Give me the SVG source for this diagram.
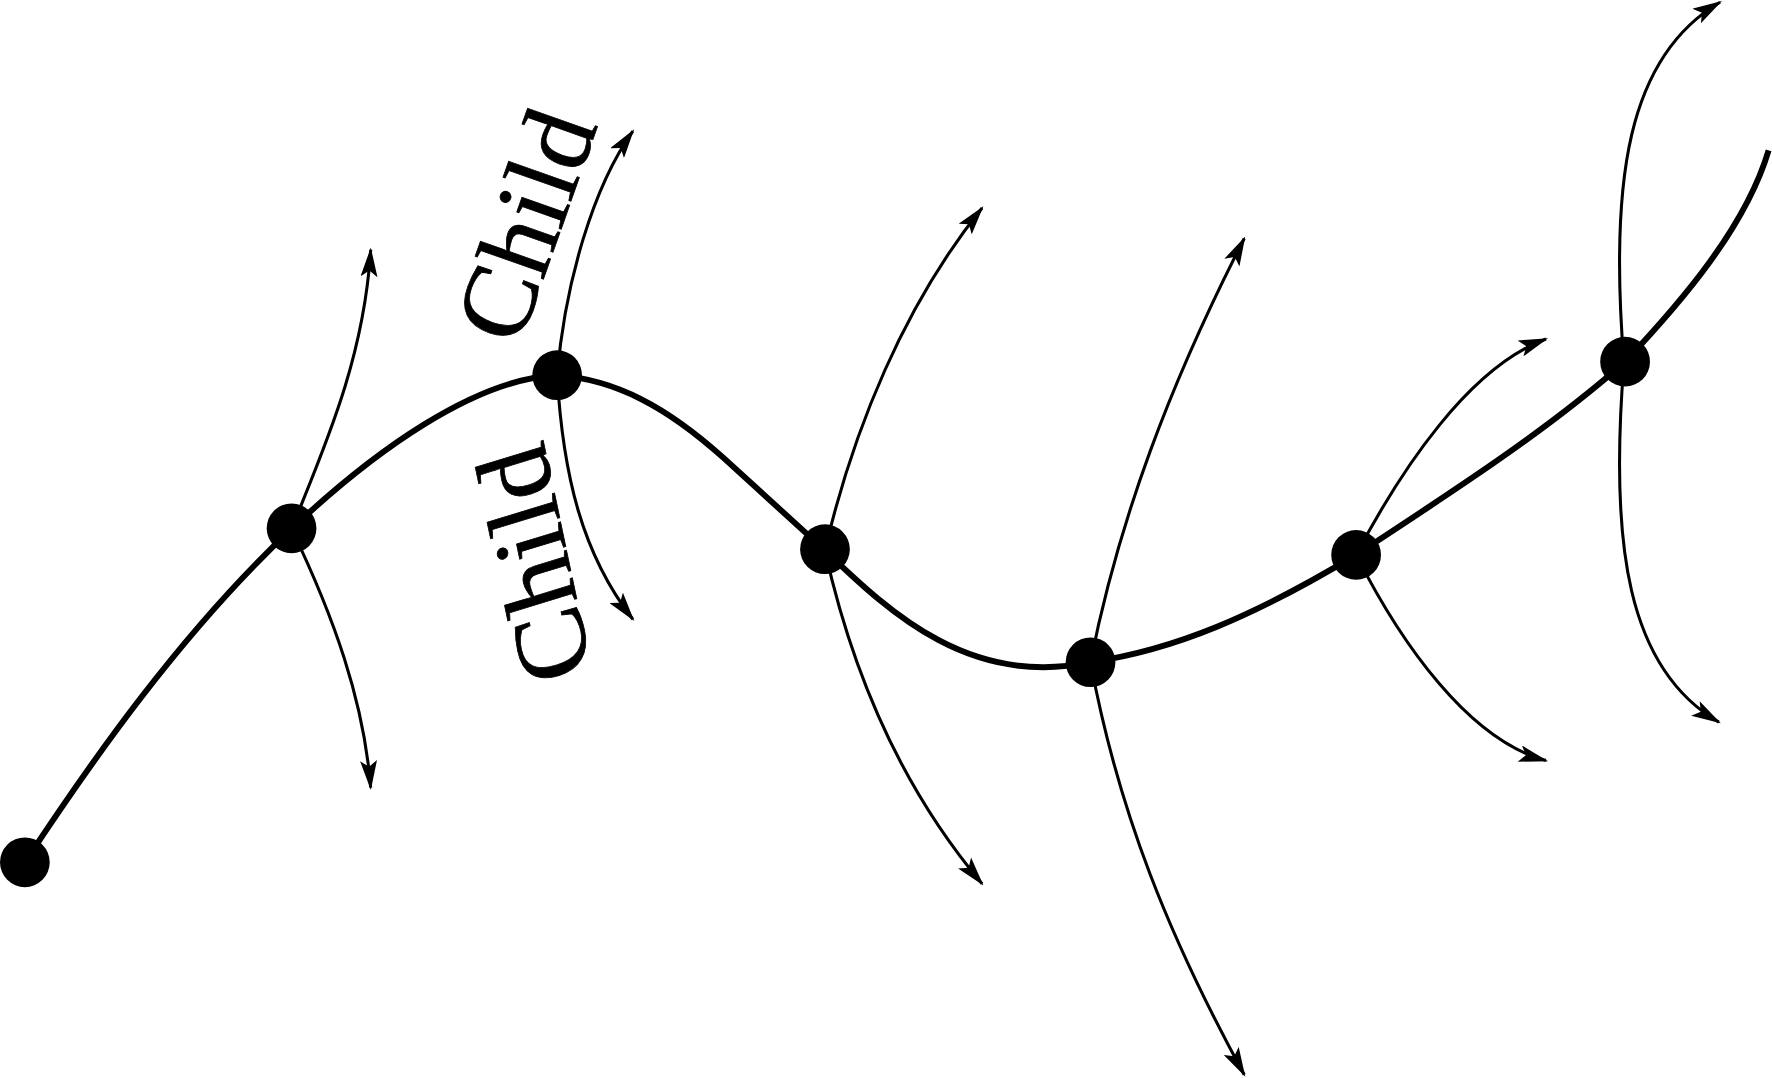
<svg xmlns="http://www.w3.org/2000/svg" width="1772" height="1078" viewBox="0 0 1772 1078">
<style>
.main{fill:none;stroke:#000;stroke-width:5.2;stroke-linecap:butt;stroke-linejoin:round}
.arr{fill:none;stroke:#000;stroke-width:2.7;marker-end:url(#ah)}
.node{fill:#000}
.lbl{font-family:"Liberation Serif","Times New Roman",serif;font-size:92px;fill:#000;stroke:#000;stroke-width:0.7}
</style>
<defs>
<marker id="ah" markerUnits="userSpaceOnUse" viewBox="0 0 26 15" refX="24" refY="7.5" markerWidth="26" markerHeight="15" orient="auto">
<path d="M0,0 L26,7.5 L0,15 L5.5,7.5 Z" fill="#000"/>
</marker>
</defs>
<rect width="1772" height="1078" fill="#fff"/>
<g transform="scale(1.1301)">
<g id="connectors">
<path class="main" d="M22,763 C80,675 160,560 258,468 C330,400 420,335 493,332 C545,336 590,360 640,405 L730,487 C790,545 860,608 965,586 C1040,575 1110,545 1200,491 C1290,432 1370,380 1437,321 C1490,265 1545,200 1565,133"/>
<path class="arr" d="M258,468 C285,400 322,320 328,221"/>
<path class="arr" d="M258,468 C295,545 322,620 328,697"/>
<path class="arr" d="M493,332 C500,250 525,165 560,116"/>
<path class="arr" d="M493,332 C498,420 515,490 560,548"/>
<path class="arr" d="M730,487 C755,380 800,270 869,184"/>
<path class="arr" d="M730,487 C755,600 800,700 869,782"/>
<path class="arr" d="M965,586 C990,460 1035,340 1101,211"/>
<path class="arr" d="M965,586 C990,720 1035,830 1101,951"/>
<path class="arr" d="M1200,491 C1240,415 1300,325 1368,300"/>
<path class="arr" d="M1200,491 C1240,570 1300,655 1368,673"/>
<path class="arr" d="M1437,321 C1424,160 1440,50 1522,2"/>
<path class="arr" d="M1437,321 C1424,482 1440,592 1521,639"/>
</g>
<g id="n0"><circle class="node" cx="22" cy="763" r="22"/></g>
<g id="n1"><circle class="node" cx="258" cy="467.5" r="22"/></g>
<g id="n2"><circle class="node" cx="493" cy="332" r="22"/></g>
<g id="n3"><circle class="node" cx="730" cy="486" r="22"/></g>
<g id="n4"><circle class="node" cx="965" cy="586" r="22"/></g>
<g id="n5"><circle class="node" cx="1200" cy="491" r="22"/></g>
<g id="n6"><circle class="node" cx="1438" cy="320" r="22"/></g>
<g id="label-upper"><text class="lbl" transform="translate(459.3,308) rotate(-70.5)" textLength="209" lengthAdjust="spacingAndGlyphs">Child</text></g>
<g id="label-lower"><text class="lbl" transform="translate(523.9,592.9) rotate(-102) skewX(5)" textLength="209" lengthAdjust="spacingAndGlyphs">Child</text></g>
</g>
</svg>
